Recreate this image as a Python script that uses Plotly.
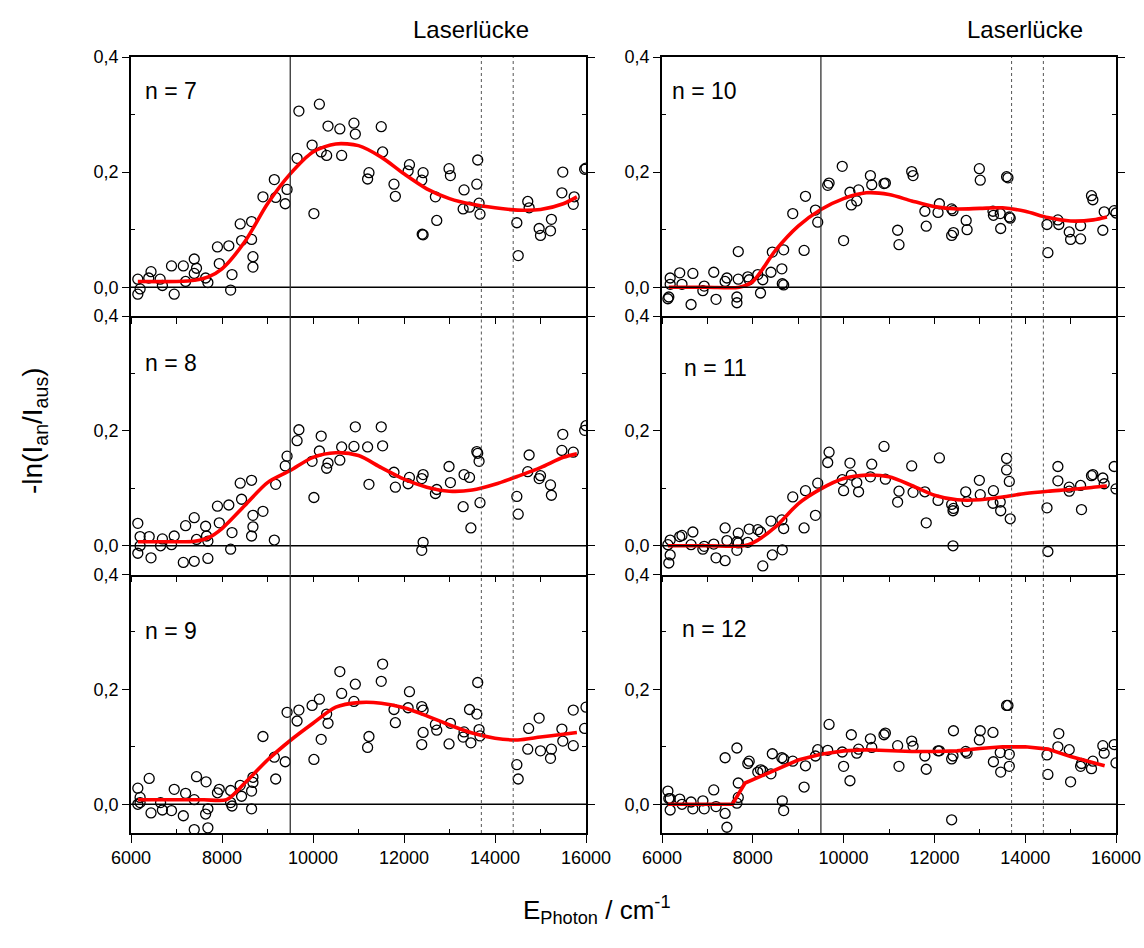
import plotly.graph_objects as go

# ---------------- data ----------------
n7_x = [6150, 6150, 6200, 6390, 6440, 6640, 6690, 6890, 6950, 7150, 7200, 7390, 7440, 7390, 7640, 7690,
        7900, 7940, 8150, 8190, 8220, 8400, 8430, 8650, 8650, 8680, 8680, 8900, 9150, 9180, 9390, 9430,
        9650, 9690, 9980, 10020, 10140, 10180, 10330, 10300, 10590, 10630, 10900, 10930, 11200, 11230,
        11500, 11530, 11780, 11810, 12090, 12120, 12390, 12420, 12400, 12420, 12690, 12720, 12990, 13020,
        13300, 13320, 13440, 13600, 13620, 13650, 13670, 14480, 14510, 14720, 14750, 14970, 15000, 15220,
        15240, 15470, 15490, 15720, 15740, 15970, 16000]
n7_y = [0.014, -0.012, -0.003, 0.016, 0.027, 0.014, 0.003, 0.037, -0.012, 0.037, 0.010, 0.049, 0.033, 0.024,
        0.016, 0.008, 0.070, 0.041, 0.072, -0.005, 0.022, 0.110, 0.081, 0.114, 0.083, 0.053, 0.035, 0.157,
        0.187, 0.156, 0.145, 0.170, 0.224, 0.306, 0.247, 0.128, 0.318, 0.235, 0.280, 0.229, 0.275, 0.229,
        0.285, 0.266, 0.188, 0.199, 0.279, 0.235, 0.179, 0.158, 0.202, 0.213, 0.186, 0.199, 0.092, 0.091,
        0.157, 0.116, 0.206, 0.194, 0.136, 0.169, 0.139, 0.179, 0.221, 0.146, 0.127, 0.112, 0.055, 0.149,
        0.138, 0.102, 0.090, 0.098, 0.118, 0.164, 0.200, 0.144, 0.157, 0.205, 0.207]
n7_fit_x = [6150, 7000, 7400, 7700, 8000, 8500, 9000, 9500, 10000, 10500, 11000, 11500, 12000, 12500,
            13000, 13500, 14000, 14500, 15000, 15500, 15800]
n7_fit_y = [0.010, 0.010, 0.012, 0.018, 0.032, 0.079, 0.145, 0.197, 0.235, 0.249, 0.246, 0.226, 0.197,
            0.171, 0.154, 0.144, 0.138, 0.134, 0.135, 0.145, 0.157]

n8_x = [6150, 6150, 6200, 6200, 6400, 6440, 6650, 6690, 6890, 6950, 7150, 7200, 7390, 7390, 7440, 7640,
        7660, 7690, 7690, 7900, 7940, 8150, 8190, 8220, 8400, 8430, 8650, 8650, 8680, 8680, 8900, 9150,
        9180, 9390, 9430, 9650, 9690, 9980, 10020, 10140, 10180, 10300, 10330, 10590, 10630, 10900, 10930,
        11200, 11230, 11500, 11530, 11780, 11810, 12090, 12120, 12390, 12420, 12390, 12420, 12690, 12720,
        12990, 13020, 13300, 13320, 13440, 13470, 13600, 13620, 13650, 13670, 14480, 14510, 14720, 14750,
        14970, 15000, 15220, 15240, 15470, 15490, 15720, 15970, 16000]
n8_y = [0.039, -0.013, 0.016, 0.000, 0.016, -0.021, 0.000, 0.012, 0.002, 0.017, -0.029, 0.035, -0.027,
        0.049, 0.011, 0.034, 0.017, 0.008, -0.022, 0.069, 0.040, 0.071, -0.006, 0.023, 0.109, 0.081, 0.114,
        0.017, 0.053, 0.033, 0.060, 0.010, 0.107, 0.139, 0.156, 0.183, 0.202, 0.147, 0.084, 0.165, 0.191,
        0.135, 0.144, 0.149, 0.172, 0.173, 0.207, 0.172, 0.107, 0.207, 0.174, 0.128, 0.102, 0.108, 0.119,
        -0.008, 0.006, 0.117, 0.124, 0.091, 0.098, 0.138, 0.110, 0.068, 0.124, 0.119, 0.031, 0.164, 0.161,
        0.147, 0.075, 0.086, 0.055, 0.129, 0.158, 0.117, 0.122, 0.106, 0.088, 0.166, 0.194, 0.163, 0.201,
        0.209]
n8_fit_x = [6150, 7000, 7400, 7700, 8000, 8500, 9000, 9500, 10000, 10500, 11000, 11500, 12000, 12500,
            13000, 13500, 14000, 14500, 15000, 15500, 15800]
n8_fit_y = [0.007, 0.007, 0.008, 0.014, 0.030, 0.070, 0.110, 0.131, 0.154, 0.162, 0.157, 0.136, 0.116,
            0.102, 0.095, 0.097, 0.107, 0.121, 0.136, 0.154, 0.160]

n9_x = [6150, 6150, 6200, 6200, 6400, 6440, 6650, 6690, 6890, 6950, 7150, 7200, 7390, 7390, 7440, 7640,
        7650, 7690, 7690, 7900, 7940, 8190, 8190, 8220, 8400, 8430, 8650, 8650, 8680, 8680, 8900, 9150,
        9180, 9390, 9430, 9650, 9690, 9980, 10020, 10140, 10180, 10300, 10330, 10590, 10630, 10900, 10930,
        11200, 11230, 11500, 11530, 11780, 11810, 12090, 12120, 12390, 12420, 12390, 12420, 12690, 12720,
        12990, 13020, 13300, 13320, 13440, 13470, 13600, 13620, 13650, 13670, 14480, 14510, 14740, 14720,
        14970, 15000, 15220, 15240, 15470, 15490, 15720, 15720, 15970, 16000]
n9_y = [0.000, 0.028, 0.012, 0.003, 0.045, -0.015, 0.003, -0.010, -0.011, 0.026, -0.020, 0.019, -0.044,
        0.008, 0.048, -0.017, 0.039, -0.008, -0.041, 0.020, 0.026, 0.024, 0.003, -0.003, 0.033, 0.014,
        0.023, -0.008, 0.047, 0.038, 0.118, 0.082, 0.044, 0.074, 0.160, 0.145, 0.164, 0.172, 0.078, 0.183,
        0.113, 0.157, 0.141, 0.231, 0.193, 0.179, 0.209, 0.099, 0.118, 0.214, 0.244, 0.165, 0.142, 0.168,
        0.196, 0.170, 0.164, 0.104, 0.125, 0.139, 0.129, 0.105, 0.141, 0.117, 0.126, 0.165, 0.107, 0.157,
        0.212, 0.130, 0.119, 0.069, 0.044, 0.132, 0.096, 0.150, 0.093, 0.080, 0.096, 0.131, 0.110, 0.164,
        0.102, 0.132, 0.169]
n9_fit_x = [6150, 7000, 7600, 8100, 8500, 9000, 9500, 10000, 10500, 11000, 11500, 12000, 12500, 13000,
            13500, 14000, 14500, 15000, 15500, 15800]
n9_fit_y = [0.008, 0.008, 0.008, 0.008, 0.037, 0.077, 0.111, 0.141, 0.169, 0.177, 0.176, 0.168, 0.154,
            0.138, 0.124, 0.115, 0.112, 0.117, 0.122, 0.125]

n10_x = [6150, 6130, 6180, 6180, 6390, 6440, 6640, 6680, 6900, 6930, 7140, 7190, 7390, 7430, 7650, 7650,
         7680, 7680, 7890, 7920, 8110, 8170, 8220, 8400, 8430, 8640, 8650, 8680, 8680, 8880, 9130, 9160,
         9380, 9430, 9650, 9680, 9970, 10000, 10140, 10170, 10290, 10330, 10590, 10620, 10890, 10920,
         11190, 11220, 11500, 11530, 11790, 11820, 12110, 12080, 12380, 12410, 12380, 12420, 12700, 12720,
         12990, 13010, 13290, 13300, 13450, 13460, 13590, 13620, 13650, 13670, 14480, 14500, 14720, 14740,
         14970, 15000, 15220, 15220, 15460, 15490, 15710, 15740, 15960, 16000]
n10_y = [-0.017, -0.020, 0.016, 0.005, 0.025, 0.005, -0.030, 0.024, -0.006, 0.002, 0.026, -0.021, 0.010,
         0.016, -0.017, -0.027, 0.062, 0.014, 0.018, 0.013, 0.022, -0.010, 0.013, 0.026, 0.061, 0.032,
         0.006, 0.004, 0.065, 0.128, 0.064, 0.158, 0.134, 0.113, 0.177, 0.181, 0.210, 0.081, 0.165, 0.143,
         0.150, 0.169, 0.194, 0.178, 0.180, 0.181, 0.099, 0.074, 0.201, 0.194, 0.132, 0.106, 0.145, 0.130,
         0.136, 0.133, 0.090, 0.095, 0.116, 0.100, 0.206, 0.186, 0.132, 0.125, 0.128, 0.102, 0.192, 0.190,
         0.122, 0.120, 0.109, 0.060, 0.117, 0.109, 0.096, 0.083, 0.107, 0.084, 0.159, 0.152, 0.099, 0.131,
         0.133, 0.129]
n10_fit_x = [6150, 7000, 7700, 8000, 8500, 9000, 9500, 10000, 10500, 11000, 11500, 12000, 12500, 13000,
             13500, 14000, 14500, 15000, 15500, 15800]
n10_fit_y = [0.000, 0.000, 0.000, 0.010, 0.064, 0.106, 0.135, 0.154, 0.164, 0.161, 0.150, 0.140, 0.136,
             0.137, 0.138, 0.132, 0.121, 0.115, 0.117, 0.122]

n11_x = [6130, 6150, 6180, 6180, 6390, 6440, 6640, 6680, 6900, 6930, 7140, 7190, 7390, 7390, 7430, 7650,
         7650, 7680, 7680, 7890, 7920, 8110, 8170, 8220, 8400, 8430, 8640, 8650, 8680, 8880, 9130, 9160,
         9380, 9430, 9650, 9680, 9970, 10000, 10140, 10170, 10290, 10330, 10590, 10620, 10890, 10920,
         11190, 11220, 11500, 11530, 11790, 11820, 12080, 12110, 12380, 12410, 12420, 12410, 12690, 12720,
         12990, 13010, 13290, 13300, 13450, 13460, 13590, 13590, 13650, 13670, 14480, 14500, 14720, 14720,
         14970, 14970, 15220, 15240, 15460, 15490, 15710, 15740, 15960, 16000]
n11_y = [0.002, -0.030, -0.016, 0.010, 0.016, 0.018, 0.002, 0.024, -0.006, -0.001, 0.003, -0.021, 0.031,
         -0.026, 0.009, -0.008, 0.007, 0.022, 0.005, 0.006, 0.029, 0.028, 0.024, -0.035, 0.043, -0.016,
         0.045, -0.007, 0.030, 0.085, 0.031, 0.096, 0.053, 0.109, 0.145, 0.163, 0.115, 0.096, 0.144, 0.123,
         0.110, 0.094, 0.120, 0.142, 0.173, 0.116, 0.076, 0.095, 0.139, 0.093, 0.094, 0.040, 0.079, 0.153,
         0.072, 0.061, 0.065, 0.000, 0.094, 0.077, 0.114, 0.089, 0.074, 0.096, 0.076, 0.061, 0.152, 0.132,
         0.112, 0.047, 0.066, -0.010, 0.138, 0.113, 0.102, 0.095, 0.105, 0.063, 0.122, 0.124, 0.118, 0.108,
         0.138, 0.099]
n11_fit_x = [6130, 7000, 7800, 8000, 8500, 9000, 9500, 10000, 10500, 11000, 11500, 12000, 12500, 13000,
             13500, 14000, 14500, 15000, 15500, 15800]
n11_fit_y = [0.000, 0.000, 0.000, 0.005, 0.033, 0.073, 0.099, 0.117, 0.123, 0.120, 0.105, 0.088, 0.080,
             0.080, 0.085, 0.091, 0.095, 0.098, 0.102, 0.104]

n12_x = [6130, 6150, 6180, 6180, 6390, 6440, 6640, 6680, 6900, 6930, 7140, 7190, 7390, 7390, 7430, 7650,
         7650, 7680, 7680, 7890, 7920, 8110, 8170, 8220, 8400, 8430, 8640, 8650, 8680, 8680, 8880, 9130,
         9160, 9380, 9430, 9650, 9680, 9970, 10000, 10140, 10170, 10290, 10330, 10590, 10620, 10890, 10920,
         11190, 11220, 11500, 11530, 11790, 11820, 12080, 12110, 12380, 12410, 12420, 12380, 12690, 12720,
         12990, 13010, 13290, 13300, 13450, 13460, 13590, 13620, 13650, 13650, 14480, 14500, 14720, 14740,
         14970, 15000, 15220, 15240, 15460, 15490, 15710, 15740, 15960, 16000]
n12_y = [0.023, 0.010, 0.010, -0.010, 0.009, 0.000, 0.004, -0.008, 0.006, -0.008, 0.025, -0.004, 0.081,
         -0.016, -0.040, 0.098, 0.002, 0.037, 0.012, 0.071, 0.075, 0.056, 0.060, 0.058, 0.053, 0.088, 0.081,
         0.006, 0.079, -0.011, 0.075, 0.030, 0.067, 0.084, 0.095, 0.094, 0.139, 0.091, 0.066, 0.041, 0.121,
         0.089, 0.096, 0.114, 0.099, 0.121, 0.124, 0.102, 0.066, 0.110, 0.101, 0.084, 0.061, 0.093, 0.093,
         0.079, 0.084, 0.128, -0.027, 0.092, 0.089, 0.112, 0.128, 0.125, 0.074, 0.090, 0.056, 0.172, 0.172,
         0.087, 0.066, 0.086, 0.052, 0.100, 0.123, 0.095, 0.039, 0.066, 0.071, 0.062, 0.075, 0.102, 0.089,
         0.104, 0.072]
n12_fit_x = [6130, 7000, 7550, 7830, 8000, 8500, 9000, 9500, 10000, 10500, 11000, 11500, 12000, 12500,
             13000, 13500, 14000, 14500, 15000, 15500, 15750]
n12_fit_y = [0.000, 0.000, 0.000, 0.037, 0.043, 0.061, 0.077, 0.087, 0.093, 0.095, 0.093, 0.092, 0.092,
             0.093, 0.097, 0.100, 0.100, 0.096, 0.083, 0.073, 0.067]

panel_labels = ["n = 7", "n = 10", "n = 8", "n = 11", "n = 9", "n = 12"]
x_tick_vals = [6000, 8000, 10000, 12000, 14000, 16000]
x_tick_text = ["6000", "8000", "10000", "12000", "14000", "16000"]
x_minor_vals = [7000, 9000, 11000, 13000, 15000]
y_tick_vals = [0.0, 0.2, 0.4]
y_tick_text = ["0,0", "0,2", "0,4"]
y_minor_vals = [0.1, 0.3]
edge_line = 9500
gap_lines = [13700, 14400]

# ---------------- figure ----------------
FONT = "Arial, Liberation Sans, sans-serif"
W, H = 1144, 948

panels = [
    (n7_x, n7_y, n7_fit_x, n7_fit_y, "spline"),
    (n10_x, n10_y, n10_fit_x, n10_fit_y, "spline"),
    (n8_x, n8_y, n8_fit_x, n8_fit_y, "spline"),
    (n11_x, n11_y, n11_fit_x, n11_fit_y, "spline"),
    (n9_x, n9_y, n9_fit_x, n9_fit_y, "spline"),
    (n12_x, n12_y, n12_fit_x, n12_fit_y, "linear"),
]

x_domains = [[131 / W, 586 / W], [662 / W, 1116 / W]]
row_px = [(57, 316), (316, 574.5), (574.5, 833)]
y_domains = [[1 - b / H, 1 - t / H] for (t, b) in row_px]
label_pos = [(0.026, 0.868), (0.018, 0.868), (0.026, 0.818), (0.044, 0.80), (0.026, 0.78), (0.040, 0.79)]

fig = go.Figure()
layout = dict(
    template="none",
    width=W, height=H,
    margin=dict(l=0, r=0, t=0, b=0, autoexpand=False),
    paper_bgcolor="white", plot_bgcolor="white",
    showlegend=False,
    font=dict(family=FONT, size=18, color="black"),
    shapes=[], annotations=[],
)

for i, (px, py, fx, fy, shape) in enumerate(panels):
    k = i + 1
    xa = "x" if k == 1 else f"x{k}"
    ya = "y" if k == 1 else f"y{k}"
    row, col = i // 2, i % 2
    bottom = row == 2

    fig.add_trace(go.Scatter(
        x=px, y=py, mode="markers", xaxis=xa, yaxis=ya,
        marker=dict(symbol="circle-open", size=10, color="black", line=dict(width=1.3, color="black")),
    ))
    fig.add_trace(go.Scatter(
        x=fx, y=fy, mode="lines", xaxis=xa, yaxis=ya,
        line=dict(color="#ff0000", width=3.6, shape=shape, smoothing=0.8),
    ))

    xkey = "xaxis" if k == 1 else f"xaxis{k}"
    ykey = "yaxis" if k == 1 else f"yaxis{k}"
    layout[xkey] = dict(
        domain=x_domains[col], anchor=ya, range=[6000, 16000], automargin=False,
        showgrid=False, zeroline=False, showline=True, linecolor="black", linewidth=1.5,
        mirror=(row == 0),
        tickmode="array", tickvals=x_tick_vals, ticktext=x_tick_text,
        ticks="outside", ticklen=8 if bottom else 6, tickwidth=1.3, tickcolor="black",
        showticklabels=bottom, tickfont=dict(size=18, family=FONT),
        minor=dict(tickmode="array", tickvals=x_minor_vals,
                   ticks="inside" if bottom else "outside", ticklen=4 if bottom else 6,
                   tickwidth=1.3, tickcolor="black", showgrid=False),
    )
    layout[ykey] = dict(
        domain=y_domains[row], anchor=xa, range=[-0.05, 0.4], automargin=False,
        showgrid=False, zeroline=False, showline=True, linecolor="black", linewidth=1.5, mirror="allticks",
        tickmode="array", tickvals=y_tick_vals, ticktext=y_tick_text,
        ticks="outside", ticklen=7, tickwidth=1.3, tickcolor="black",
        tickfont=dict(size=18, family=FONT),
        minor=dict(tickmode="array", tickvals=y_minor_vals, ticks="inside", ticklen=4,
                   tickwidth=1.3, tickcolor="black", showgrid=False),
    )

    # y = 0 baseline
    layout["shapes"].append(dict(type="line", xref=f"{xa} domain", yref=ya, x0=0, x1=1, y0=0, y1=0,
                                 line=dict(color="black", width=1.5)))
    # edge line
    layout["shapes"].append(dict(type="line", xref=xa, yref=f"{ya} domain", x0=edge_line, x1=edge_line,
                                 y0=0, y1=1, line=dict(color="#333333", width=1.3)))
    for g in gap_lines:
        layout["shapes"].append(dict(type="line", xref=xa, yref=f"{ya} domain", x0=g, x1=g, y0=0, y1=1,
                                     line=dict(color="#555555", width=1, dash="dot")))
    lx, ly = label_pos[i]
    layout["annotations"].append(dict(text=panel_labels[i], xref=f"{xa} domain", yref=f"{ya} domain",
                                      x=lx, y=ly, xanchor="left", yanchor="middle", showarrow=False,
                                      font=dict(size=23, family=FONT, color="black")))

# top labels
for cx in (471, 1025):
    layout["annotations"].append(dict(text="Laserlücke", xref="paper", yref="paper", x=cx / W, y=1 - 29 / H,
                                      xanchor="center", yanchor="middle", showarrow=False,
                                      font=dict(size=24, family=FONT, color="black")))
# axis titles
layout["annotations"].append(dict(text="-ln(I<sub>an</sub>/I<sub>aus</sub>)", xref="paper", yref="paper",
                                  x=34 / W, y=1 - 431 / H, xanchor="center", yanchor="middle",
                                  textangle=-90, showarrow=False, font=dict(size=28, family=FONT)))
layout["annotations"].append(dict(text="E<sub>Photon</sub> / cm<sup>-1</sup>", xref="paper", yref="paper",
                                  x=597 / W, y=1 - 910 / H, xanchor="center", yanchor="middle",
                                  showarrow=False, font=dict(size=26, family=FONT)))

fig.update_layout(**layout)
fig.write_html("out.html")
